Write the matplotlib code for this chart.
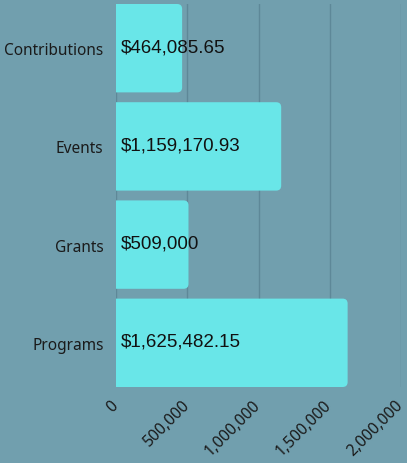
import matplotlib
matplotlib.use("Agg")
from matplotlib import pyplot as plt
from matplotlib.patches import FancyBboxPatch

categories = ["Contributions", "Events", "Grants", "Programs"]
values = [464085.65, 1159170.93, 509000, 1625482.15]
value_labels = ["$464,085.65", "$1,159,170.93", "$509,000", "$1,625,482.15"]
xticks = [0, 500000, 1000000, 1500000, 2000000]

bg = "#719fae"
bar_color = "#69e6e8"
grid_color = "#5e8898"

fig = plt.figure(figsize=(4.07, 4.64), dpi=100, facecolor=bg)
ax = fig.add_axes([116/407, 1 - 388/464, 285/407, 383/464], facecolor=bg)

ax.set_xlim(0, 2000000)
ax.set_ylim(3.45, -0.45)

# x data units per pixel vs y data units per pixel, so the corners come out round
x_per_px = 2000000 / 285
y_per_px = 3.9 / 383
r = 5 * x_per_px
h = 0.9

for i, v in enumerate(values):
    box = FancyBboxPatch((-r, i - h/2), v + r, h,
                         boxstyle="round,pad=0,rounding_size=%f" % r,
                         mutation_aspect=y_per_px / x_per_px,
                         facecolor=bar_color, edgecolor="none", zorder=2)
    ax.add_patch(box)
    ax.text(33000, i - 0.015, value_labels[i], va="center", ha="left",
            fontsize=13.5, family="Liberation Sans", color="#111111", zorder=3)

ax.set_yticks(range(len(categories)))
ax.set_yticklabels(categories, family="Noto Sans", fontsize=11.1, color="#1a1a1a")

# x tick labels drawn by hand so they can sit a bit to the right of the ticks
ax.set_xticks(xticks)
ax.set_xticklabels([])
for t in xticks:
    ax.annotate("{:,.0f}".format(t), xy=(t, 0), xycoords=ax.get_xaxis_transform(),
                xytext=(-0.5, -11.2), textcoords="offset points",
                rotation=45, rotation_mode="anchor", ha="right", va="center",
                family="Noto Sans", fontsize=11.3, color="#1a1a1a",
                annotation_clip=False)

ax.tick_params(axis="y", length=0, pad=9)
ax.tick_params(axis="x", length=0)
ax.grid(axis="x", color=grid_color, linewidth=1, zorder=0)
ax.set_axisbelow(True)
for s in ax.spines.values():
    s.set_visible(False)

fig.savefig("out.png", dpi=100, facecolor=bg)
